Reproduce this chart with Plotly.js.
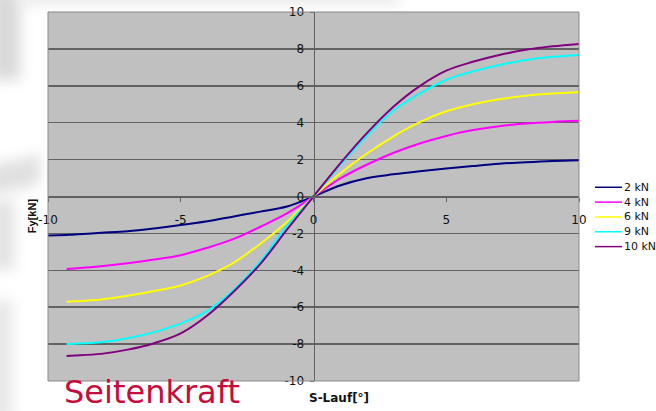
<!DOCTYPE html>
<html>
<head>
<meta charset="utf-8">
<script src="https://cdn.plot.ly/plotly-3.0.1.min.js"></script>
<style>
  html, body { margin: 0; padding: 0; background: #ffffff; }
  #wrap { position: relative; width: 656px; height: 411px; overflow: hidden; background: #ffffff; }
  .haze { position: absolute; filter: blur(7px); }
  #chart { position: absolute; left: 0; top: 0; width: 656px; height: 411px; }
</style>
</head>
<body>
<div id="wrap">
  <div class="haze" style="left:-10px; top:-10px; width:30px; height:90px; background:#d9d9d9;"></div>
  <div class="haze" style="left:20px; top:-10px; width:380px; height:14px; background:#e8e8e8;"></div>
  <div class="haze" style="left:-10px; top:160px; width:50px; height:30px; background:#e0e0e0; transform:skewY(-12deg);"></div>
  <div class="haze" style="left:-10px; top:200px; width:24px; height:70px; background:#e2e2e2;"></div>
  <div class="haze" style="left:-10px; top:300px; width:22px; height:120px; background:#e6e6e6;"></div>
  <div id="chart"></div>
</div>
<script>
// Slip angle S-Lauf in degrees
var slipAngle = [-10, -9.3, -9, -8, -7, -6, -5, -4, -3, -2, -1, 0, 1, 2, 3, 4, 5, 6, 7, 8, 9, 10];

// Lateral force Fy in kN for each wheel load
var fy2kN  = [-2.12, -2.08, -2.06, -1.97, -1.88, -1.73, -1.55, -1.34, -1.08, -0.82, -0.54, 0, 0.60, 0.99, 1.20, 1.37, 1.52, 1.65, 1.77, 1.86, 1.93, 1.97];
var fy4kN  = [null, -3.93, -3.90, -3.78, -3.62, -3.42, -3.18, -2.78, -2.30, -1.64, -0.92, 0, 0.97, 1.72, 2.36, 2.87, 3.28, 3.60, 3.81, 3.95, 4.04, 4.10];
var fy6kN  = [null, -5.70, -5.68, -5.58, -5.38, -5.12, -4.82, -4.30, -3.58, -2.56, -1.38, 0, 1.25, 2.32, 3.25, 4.03, 4.62, 5.00, 5.27, 5.46, 5.58, 5.65];
var fy9kN  = [null, -7.99, -7.98, -7.90, -7.68, -7.35, -6.88, -6.20, -5.05, -3.52, -1.58, 0, 1.70, 3.28, 4.65, 5.58, 6.33, 6.78, 7.13, 7.40, 7.57, 7.67];
var fy10kN = [null, -8.64, -8.62, -8.53, -8.30, -7.95, -7.42, -6.45, -5.15, -3.65, -1.80, 0, 1.78, 3.42, 4.85, 5.98, 6.82, 7.30, 7.67, 7.95, 8.14, 8.27];

var seriesNames  = ['2 kN', '4 kN', '6 kN', '9 kN', '10 kN'];
var seriesValues = [fy2kN, fy4kN, fy6kN, fy9kN, fy10kN];
var seriesColors = ['#000080', '#ff00ff', '#ffff00', '#00ffff', '#800080'];

// Axis ticks (plain hyphen for negatives)
var xTickVals = [-10, -5, 0, 5, 10];
var xTickText = ['-10', '-5', '0', '5', '10'];
var yTickVals = [10, 8, 6, 4, 2, 0, -2, -4, -6, -8, -10];
var yTickText = ['10', '8', '6', '4', '2', '0', '-2', '-4', '-6', '-8', '-10'];

var tickFont = { family: 'DejaVu Sans, Arial, sans-serif', size: 12, color: '#111111' };

var traces = seriesNames.map(function (name, i) {
  return {
    type: 'scatter',
    mode: 'lines',
    name: name,
    x: slipAngle,
    y: seriesValues[i],
    line: { color: seriesColors[i], width: 2, shape: 'spline', smoothing: 1 },
    connectgaps: false,
    showlegend: false,
    hoverinfo: 'skip'
  };
});

// Plot frame plus a compact hand-built legend on the right
var shapes = [
  { type: 'rect', xref: 'paper', yref: 'paper', x0: 0, x1: 1, y0: 0, y1: 1,
    line: { color: '#8a8a8a', width: 1 }, fillcolor: 'rgba(0,0,0,0)', layer: 'above' }
];
var annotations = [
  { xref: 'paper', yref: 'paper', x: 0.548, y: -0.046, xanchor: 'center', yanchor: 'middle',
    text: '<b>S-Lauf[°]</b>', showarrow: false,
    font: { family: 'DejaVu Sans, Arial, sans-serif', size: 12, color: '#111111' } },
  { xref: 'paper', yref: 'paper', x: -0.030, y: 0.447, xanchor: 'center', yanchor: 'middle',
    text: '<b>Fy[kN]</b>', textangle: -90, showarrow: false,
    font: { family: 'Liberation Sans, Arial, sans-serif', size: 11, color: '#111111' } },
  { xref: 'paper', yref: 'paper', x: 0.026, y: -0.030, xanchor: 'left', yanchor: 'middle',
    text: 'Seitenkraft', showarrow: false,
    font: { family: 'DejaVu Sans, Arial, sans-serif', size: 32, color: '#c40d3c' } }
];
var legendTop = 0.525, legendStep = 0.0402;
seriesNames.forEach(function (name, i) {
  var yy = legendTop - i * legendStep;
  shapes.push({ type: 'line', xref: 'paper', yref: 'paper', x0: 1.030, x1: 1.081, y0: yy, y1: yy,
    line: { color: seriesColors[i], width: 1.5 } });
  annotations.push({ xref: 'paper', yref: 'paper', x: 1.081, y: yy, xanchor: 'left', yanchor: 'middle',
    text: name, showarrow: false,
    font: { family: 'DejaVu Sans, Arial, sans-serif', size: 11, color: '#111111' } });
});

var layout = {
  width: 656,
  height: 411,
  margin: { l: 48, r: 77, t: 12, b: 30, pad: 0 },
  paper_bgcolor: 'rgba(0,0,0,0)',
  plot_bgcolor: '#c0c0c0',
  showlegend: false,
  xaxis: {
    range: [-10, 10],
    anchor: 'free',
    position: 0.5,
    tickmode: 'array',
    tickvals: xTickVals,
    ticktext: xTickText,
    ticks: 'outside',
    ticklen: 4,
    tickcolor: '#606060',
    tickfont: tickFont,
    ticklabelstandoff: 8,
    showgrid: false,
    zeroline: false,
    showline: true,
    linecolor: '#606060',
    linewidth: 1.5
  },
  yaxis: {
    range: [-10, 10],
    anchor: 'free',
    position: 0.5,
    tickmode: 'array',
    tickvals: yTickVals,
    ticktext: yTickText,
    ticks: 'outside',
    ticklen: 4,
    tickcolor: '#606060',
    tickfont: tickFont,
    ticklabelstandoff: 3,
    showgrid: true,
    gridcolor: '#626262',
    gridwidth: 1.5,
    zeroline: false,
    showline: true,
    linecolor: '#606060',
    linewidth: 1
  },
  shapes: shapes,
  annotations: annotations
};

Plotly.newPlot('chart', traces, layout, { staticPlot: true, displayModeBar: false });
</script>
</body>
</html>
